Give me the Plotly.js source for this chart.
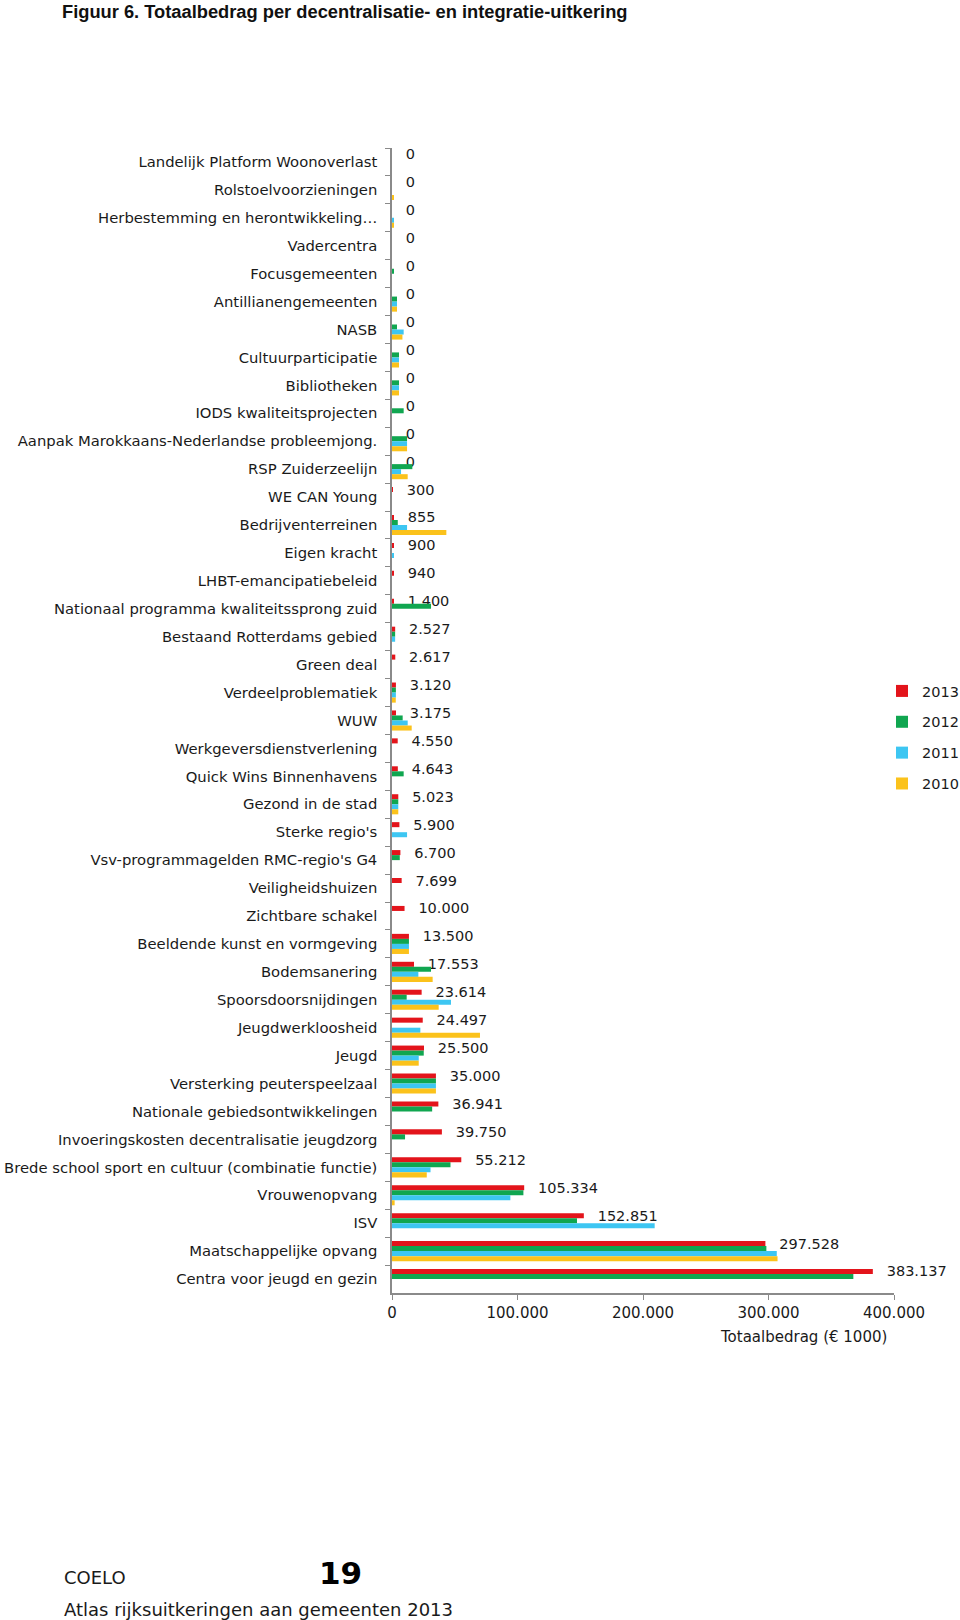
<!DOCTYPE html>
<html>
<head>
<meta charset="utf-8">
<script src="https://cdn.plot.ly/plotly-3.0.1.min.js"></script>
<style>
  html, body { margin: 0; padding: 0; background: #ffffff; }
  #chart { width: 960px; height: 1620px; }
</style>
</head>
<body>
<div id="chart"></div>
<script>
// ---------- data (top to bottom as in the figure) ----------
const categories = [
  "Landelijk Platform Woonoverlast",
  "Rolstoelvoorzieningen",
  "Herbestemming en herontwikkeling…",
  "Vadercentra",
  "Focusgemeenten",
  "Antillianengemeenten",
  "NASB",
  "Cultuurparticipatie",
  "Bibliotheken",
  "IODS kwaliteitsprojecten",
  "Aanpak Marokkaans-Nederlandse probleemjong.",
  "RSP Zuiderzeelijn",
  "WE CAN Young",
  "Bedrijventerreinen",
  "Eigen kracht",
  "LHBT-emancipatiebeleid",
  "Nationaal programma kwaliteitssprong zuid",
  "Bestaand Rotterdams gebied",
  "Green deal",
  "Verdeelproblematiek",
  "WUW",
  "Werkgeversdienstverlening",
  "Quick Wins Binnenhavens",
  "Gezond in de stad",
  "Sterke regio's",
  "Vsv-programmagelden RMC-regio's G4",
  "Veiligheidshuizen",
  "Zichtbare schakel",
  "Beeldende kunst en vormgeving",
  "Bodemsanering",
  "Spoorsdoorsnijdingen",
  "Jeugdwerkloosheid",
  "Jeugd",
  "Versterking peuterspeelzaal",
  "Nationale gebiedsontwikkelingen",
  "Invoeringskosten decentralisatie jeugdzorg",
  "Brede school sport en cultuur (combinatie functie)",
  "Vrouwenopvang",
  "ISV",
  "Maatschappelijke opvang",
  "Centra voor jeugd en gezin"
];

const years = ["2013", "2012", "2011", "2010"];

const values2013 = [0, 0, 0, 0, 0, 0, 0, 0, 0, 0, 0, 0, 300, 855, 900, 940, 1400, 2527, 2617, 3120,
  3175, 4550, 4643, 5023, 5900, 6700, 7699, 10000, 13500, 17553, 23614, 24497, 25500, 35000, 36941,
  39750, 55212, 105334, 152851, 297528, 383137];

const values2012 = [0, 0, 0, 0, 1500, 4000, 4000, 5600, 5600, 9300, 12000, 16200, 0, 4600, 0, 0, 31100,
  2500, 0, 3100, 8500, 0, 9300, 5000, 0, 6200, 0, 0, 13500, 31100, 11700, 0, 25300, 35000, 32000,
  10400, 46600, 104700, 147400, 298300, 367600];

const values2011 = [0, 0, 1500, 0, 0, 4000, 9300, 5600, 5600, 0, 12000, 7200, 0, 12000, 1400, 0, 0,
  2500, 0, 3100, 12500, 0, 0, 5000, 12000, 0, 0, 0, 13500, 21000, 47000, 22600, 21300, 35000, 0,
  0, 30700, 94300, 209300, 306600, 0];

const values2010 = [0, 1200, 1500, 0, 0, 4000, 8300, 5600, 5600, 0, 12000, 12500, 0, 43300, 0, 0, 0,
  0, 0, 3000, 15700, 0, 0, 5000, 0, 0, 0, 0, 13500, 32400, 37200, 70100, 21300, 35000, 0,
  0, 27700, 2100, 0, 307200, 0];

const xTickVals = [0, 100000, 200000, 300000, 400000];

// ---------- styling ----------
const colors = { "2013": "#E3141B", "2012": "#10A650", "2011": "#3DC6F2", "2010": "#FBC21B" };
const FONT = "DejaVu Sans, Verdana, sans-serif";
const TXT = "#1a1a1a";

// plot area in page pixels
const L = 392, R = 894, T = 148, B = 1293;
const px = x => (x - L) / (R - L);
const py = y => (B - y) / (B - T);

const series = { "2013": values2013, "2012": values2012, "2011": values2011, "2010": values2010 };

const traces = years.map(yr => {
  const t = {
    type: "bar",
    orientation: "h",
    name: yr,
    legendgroup: yr,
    x: series[yr],
    y: categories,
    marker: { color: colors[yr], line: { width: 0 } },
    hoverinfo: "x+name",
    cliponaxis: false
  };
  if (yr === "2013") {
    t.texttemplate = "\u00a0\u00a0\u00a0%{x:,}";
    t.textposition = "outside";
    t.constraintext = "none";
    t.outsidetextfont = { family: FONT, size: 14.5, color: TXT };
  }
  return t;
});

const layout = {
  width: 960,
  height: 1620,
  paper_bgcolor: "#ffffff",
  plot_bgcolor: "#ffffff",
  separators: ",.",
  font: { family: FONT, size: 15, color: TXT },
  margin: { l: L, r: 960 - R, t: T, b: 1620 - B, autoexpand: false },
  barmode: "group",
  bargap: 0.28,
  bargroupgap: 0,
  showlegend: true,
  title: {
    text: "<b>Figuur 6. Totaalbedrag per decentralisatie- en integratie-uitkering</b>",
    font: { family: "Liberation Sans, Arial, sans-serif", size: 18.3, color: "#111" },
    xref: "container", yref: "container",
    x: 62 / 960, xanchor: "left",
    y: 1 - 12 / 1620, yanchor: "middle"
  },
  xaxis: {
    range: [0, 400000],
    tickvals: xTickVals,
    tickformat: ",d",
    ticks: "outside",
    ticklen: 5,
    tickcolor: "#8a8a8a",
    showline: true,
    linecolor: "#8a8a8a",
    linewidth: 1.5,
    showgrid: false,
    zeroline: false,
    tickfont: { family: FONT, size: 15, color: TXT },
    fixedrange: true
  },
  yaxis: {
    type: "category",
    autorange: "reversed",
    tickson: "boundaries",
    ticks: "outside",
    ticklen: 5,
    tickcolor: "#8a8a8a",
    showline: true,
    linecolor: "#8a8a8a",
    linewidth: 1.5,
    showgrid: false,
    zeroline: false,
    automargin: false,
    ticklabelstandoff: 10,
    tickfont: { family: FONT, size: 14.8, color: TXT },
    fixedrange: true
  },
  legend: {
    x: px(882), xanchor: "left",
    y: py(675), yanchor: "top",
    font: { family: FONT, size: 14.5, color: TXT },
    tracegroupgap: 9,
    bgcolor: "rgba(0,0,0,0)"
  },
  annotations: [
    {
      text: "Totaalbedrag (€ 1000)",
      xref: "paper", yref: "paper",
      x: px(803), y: py(1337), xanchor: "center", yanchor: "middle",
      showarrow: false, font: { family: FONT, size: 15, color: TXT }
    },
    {
      text: "COELO",
      xref: "paper", yref: "paper",
      x: px(62), y: py(1577), xanchor: "left", yanchor: "middle",
      showarrow: false, font: { family: FONT, size: 18, color: TXT }
    },
    {
      text: "<b>19</b>",
      xref: "paper", yref: "paper",
      x: px(340), y: py(1573), xanchor: "center", yanchor: "middle",
      showarrow: false, font: { family: FONT, size: 31, color: "#000" }
    },
    {
      text: "Atlas rijksuitkeringen aan gemeenten 2013",
      xref: "paper", yref: "paper",
      x: px(62), y: py(1609), xanchor: "left", yanchor: "middle",
      showarrow: false, font: { family: FONT, size: 18, color: TXT }
    }
  ]
};

Plotly.newPlot("chart", traces, layout, { displayModeBar: false, responsive: false, staticPlot: false });
</script>
</body>
</html>
